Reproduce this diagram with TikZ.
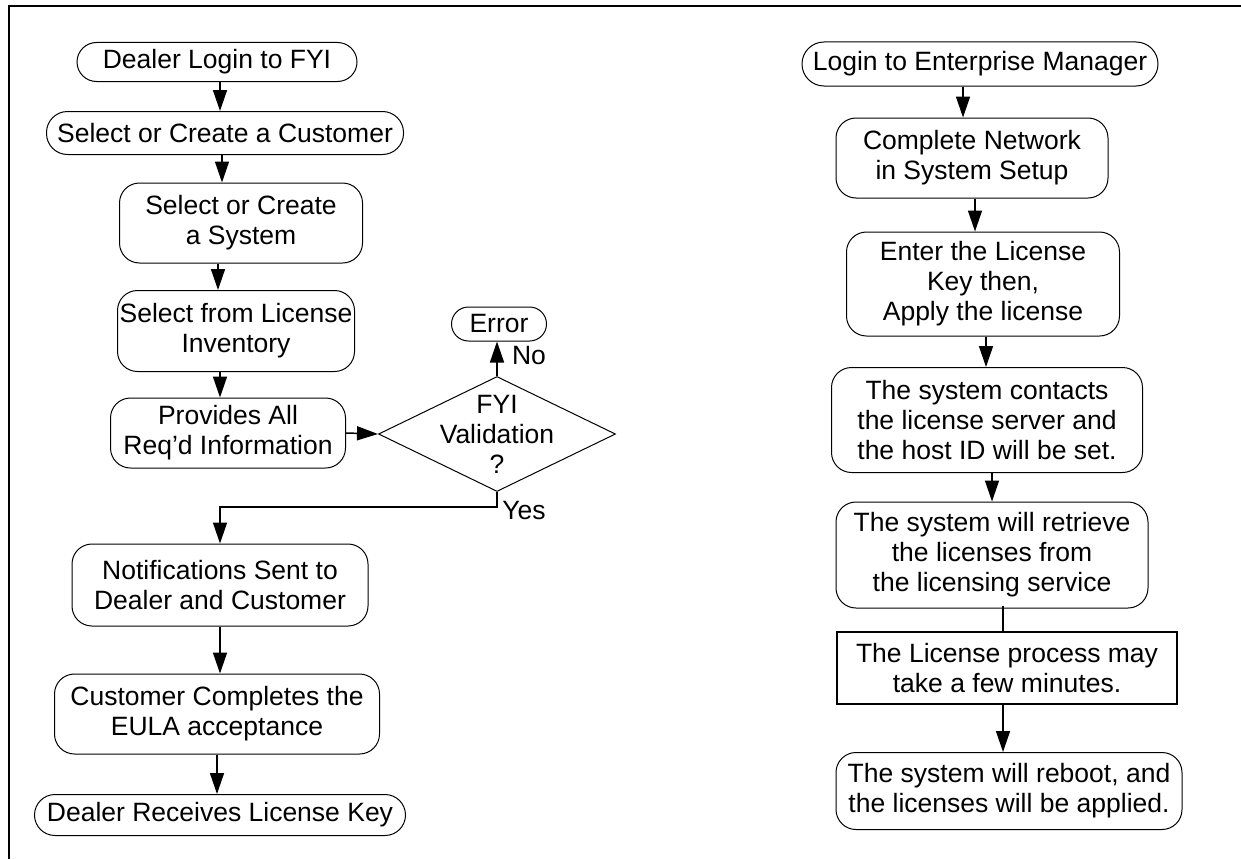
\documentclass[tikz,border=0pt]{standalone}
\usepackage{fontspec}
\setmainfont{Liberation Sans}
\usetikzlibrary{arrows.meta,shapes.geometric}

\begin{document}
\begin{tikzpicture}[x=1pt,y=-1pt,
  every node/.style={font=\fontsize{26.5}{30}\selectfont, align=center, inner sep=0pt},
  box/.style={draw, line width=1pt, rounded corners=#1},
  box/.default=20pt,
  plainbox/.style={draw, line width=2pt},
  decision/.style={draw, line width=1pt, diamond, inner sep=0pt},
  flow/.style={line width=1.5pt, -{Triangle[length=21pt,width=14pt]}},
  link/.style={line width=1.5pt},
  frameline/.style={line width=2.5pt}]

\useasboundingbox (0,0) rectangle (1241,859);

% outer frame (top and left edges)
\draw[frameline] (9,859) -- (9,6) -- (1241,6);

% ---------- left flow ----------
\node[box=19.5pt, minimum width=280pt, minimum height=39pt] (a) at (217,62) {Dealer Login to FYI};
\node[box=21pt, minimum width=357pt, minimum height=43pt] (b) at (225,133) {Select or Create a Customer};
\node[box, minimum width=243pt, minimum height=80pt] (c) at (241,223) {Select or Create\\a System};
\node[box, minimum width=237pt, minimum height=81pt] (d) at (236,331) {Select from License\\Inventory};
\node[box, minimum width=235pt, minimum height=70pt] (e) at (228,433) {Provides All\\Req'd Information};
\node[decision, minimum width=237pt, minimum height=115pt] (f) at (497,434) {};
\node (ftext) at (f.center) {FYI\\Validation\\?};
\node[box=17pt, minimum width=95pt, minimum height=34pt] (g) at (499,324) {Error};
\node (no) at (529,356) {No};
\node (yes) at (524,511) {Yes};
\node[box, minimum width=296pt, minimum height=82pt] (h) at (220,585) {Notifications Sent to\\Dealer and Customer};
\node[box, minimum width=325pt, minimum height=80pt] (i) at (217,714) {Customer Completes the\\EULA acceptance};
\node[box=20.5pt, minimum width=371pt, minimum height=41pt] (j) at (220,815) {Dealer Receives License Key};

\draw[flow] ([xshift=3pt]a.south) -- ([xshift=3pt]a.south |- b.north);
\draw[flow] ([xshift=-3pt]b.south) -- ([xshift=-3pt]b.south |- c.north);
\draw[flow] ([xshift=-23pt]c.south) -- ([xshift=-23pt]c.south |- d.north);
\draw[flow] ([xshift=-16pt]d.south) -- ([xshift=-16pt]d.south |- e.north);
\draw[flow] (e.east) -- (f.west);
\draw[flow] (f.north) -- (f.north |- g.south);
\draw[flow] (f.south) -- ++(0,15) -| (h.north);
\draw[flow] (h.south) -- (h.south |- i.north);
\draw[flow] (i.south) -- (i.south |- j.north);

% ---------- right flow ----------
\node[box=22pt, minimum width=356pt, minimum height=44pt] (r1) at (980,64) {Login to Enterprise Manager};
\node[box, minimum width=272pt, minimum height=80pt] (r2) at (972,158) {Complete Network\\in System Setup};
\node[box, minimum width=273pt, minimum height=104pt] (r3) at (983,284) {Enter the License\\Key then,\\Apply the license};
\node[box, minimum width=311pt, minimum height=105pt] (r4) at (987,420) {The system contacts\\the license server and\\the host ID will be set.};
\node[box, minimum width=312pt, minimum height=106pt] (r5) at (992,555) {The system will retrieve\\the licenses from\\the licensing service};
\node[plainbox, minimum width=340pt, minimum height=72pt] (r6) at (1007,668) {The License process may\\take a few minutes.};
\node[box, minimum width=346pt, minimum height=77pt] (r7) at (1009,791) {The system will reboot, and\\the licenses will be applied.};

\draw[flow] ([xshift=-17pt]r1.south) -- ([xshift=-17pt]r1.south |- r2.north);
\draw[flow] ([xshift=3pt]r2.south) -- ([xshift=3pt]r2.south |- r3.north);
\draw[flow] ([xshift=3pt]r3.south) -- ([xshift=3pt]r3.south |- r4.north);
\draw[flow] (r4.south -| r5.north) -- (r5.north);
\draw[link] ([xshift=-4pt,yshift=3pt]r6.north |- r5.south) -- ([xshift=-4pt]r6.north);
\draw[flow] ([xshift=-4pt]r6.south) -- ([xshift=-4pt]r6.south |- r7.north);

\end{tikzpicture}
\end{document}
